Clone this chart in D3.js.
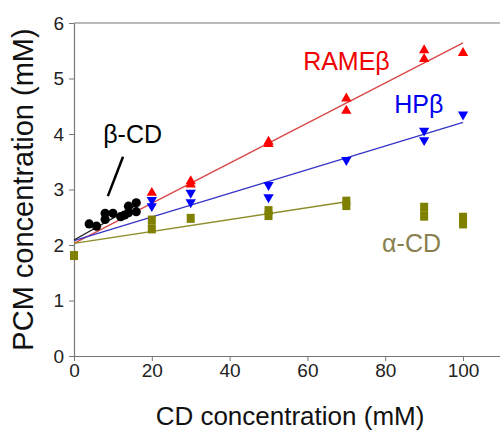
<!DOCTYPE html>
<html>
<head>
<meta charset="utf-8">
<script src="https://cdn.jsdelivr.net/npm/d3@7/dist/d3.min.js"></script>
<style>
  body { margin: 0; background: #fff; }
  svg { display: block; font-family: Arial, "Liberation Sans", sans-serif; }
</style>
</head>
<body>
<div id="chart"></div>
<script>
// Data
const xTicks = [0, 20, 40, 60, 80, 100];
const yTicks = [0, 1, 2, 3, 4, 5, 6];

const rameData = [[20, 2.94], [30, 3.09], [30, 3.15], [50, 3.82], [50, 3.86],
    [70, 4.42], [70, 4.64], [90, 5.35], [90, 5.51], [100, 5.46]];
const hpData = [[20, 2.70], [20, 2.81], [30, 2.77], [30, 2.94], [50, 2.86], [50, 3.08],
    [70, 3.53], [90, 3.89], [90, 4.06], [100, 4.35]];
const alphaData = [[0, 1.81], [20, 2.29], [20, 2.45], [30, 2.48], [50, 2.53], [50, 2.62],
    [70, 2.71], [70, 2.79], [90, 2.52], [90, 2.68], [100, 2.38], [100, 2.50]];
const betaData = [[3.9, 2.38], [5.8, 2.34], [8, 2.46], [8, 2.57], [10, 2.57], [12, 2.51],
    [13, 2.54], [14, 2.58], [14, 2.70], [16, 2.60], [16, 2.76]];

const rameFit = [[0, 2.03], [100, 5.64]];
const hpFit = [[0, 2.08], [100, 4.21]];
const alphaFit = [[0, 2.03], [70, 2.78]];
const betaFit = [[0, 2.09], [16, 2.72]];

const labels = [
    { text: 'RAMEβ', x: 58.9, y: 5.15, color: '#f00000' },
    { text: 'HPβ', x: 82.3, y: 4.38, color: '#0000f0' },
    { text: 'α-CD', x: 79.2, y: 1.87, color: '#8a7f4e' },
    { text: 'β-CD', x: 7.5, y: 3.84, color: '#000000' }
];
const pointer = [[12.6, 3.59], [8.7, 2.88]];

const width = 500, height = 430;
const margin = { top: 23, right: 0, bottom: 74, left: 74 };

const svg = d3.select('#chart').append('svg')
    .attr('width', width)
    .attr('height', height);

const x = d3.scaleLinear().domain([0, 109.5]).range([margin.left, width - margin.right]);
const y = d3.scaleLinear().domain([0, 6]).range([height - margin.bottom, margin.top]);

// top frame line
svg.append('line')
    .attr('x1', x(0)).attr('x2', width)
    .attr('y1', y(6)).attr('y2', y(6))
    .attr('stroke', '#777').attr('stroke-width', 1.2);

const xAxis = svg.append('g')
    .attr('transform', `translate(0,${y(0)})`)
    .call(d3.axisBottom(x).tickValues(xTicks).tickFormat(d3.format('d'))
        .tickSize(5).tickPadding(3).tickSizeOuter(0));

const yAxis = svg.append('g')
    .attr('transform', `translate(${x(0)},0)`)
    .call(d3.axisLeft(y).tickValues(yTicks).tickFormat(d3.format('d'))
        .tickSize(5).tickPadding(5).tickSizeOuter(0));

[xAxis, yAxis].forEach(g => {
    g.select('.domain').attr('stroke', '#777').attr('stroke-width', 1.2);
    g.selectAll('.tick line').attr('stroke', '#777');
    g.selectAll('.tick text')
        .attr('font-size', 19)
        .attr('fill', '#222')
        .style('font-family', 'Arial, "Liberation Sans", sans-serif');
});

// axis titles
svg.append('text')
    .attr('x', 290).attr('y', 425)
    .attr('text-anchor', 'middle')
    .attr('font-size', 26)
    .attr('fill', '#111')
    .text('CD concentration (mM)');

svg.append('text')
    .attr('transform', `translate(33,${(y(0) + y(6)) / 2}) rotate(-90)`)
    .attr('text-anchor', 'middle')
    .attr('font-size', 29)
    .attr('fill', '#111')
    .text('PCM concentration (mM)');

// fit lines
const line = d3.line().x(d => x(d[0])).y(d => y(d[1]));
const fits = [
    { data: rameFit, color: '#d94848' },
    { data: hpFit, color: '#3636c8' },
    { data: alphaFit, color: '#8c8c28' },
    { data: betaFit, color: '#222' }
];
svg.append('g').selectAll('path')
    .data(fits)
    .join('path')
    .attr('d', d => line(d.data))
    .attr('fill', 'none')
    .attr('stroke', d => d.color)
    .attr('stroke-width', 1.4);

// markers
const triUp = d3.symbol().type(d3.symbolTriangle).size(46);

svg.append('g').selectAll('rect')
    .data(alphaData)
    .join('rect')
    .attr('x', d => x(d[0]) - 4)
    .attr('y', d => y(d[1]) - 4.5)
    .attr('width', 8)
    .attr('height', 9)
    .attr('fill', '#808000');

svg.append('g').selectAll('path')
    .data(hpData)
    .join('path')
    .attr('d', triUp)
    .attr('transform', d => `translate(${x(d[0])},${y(d[1])}) rotate(180)`)
    .attr('fill', '#0000ff');

svg.append('g').selectAll('path')
    .data(rameData)
    .join('path')
    .attr('d', triUp)
    .attr('transform', d => `translate(${x(d[0])},${y(d[1])})`)
    .attr('fill', '#ff0000');

svg.append('g').selectAll('circle')
    .data(betaData)
    .join('circle')
    .attr('cx', d => x(d[0]))
    .attr('cy', d => y(d[1]))
    .attr('r', 4.6)
    .attr('fill', '#000');

// annotations
svg.append('g').selectAll('text')
    .data(labels)
    .join('text')
    .attr('x', d => x(d.x))
    .attr('y', d => y(d.y))
    .attr('font-size', 25)
    .attr('fill', d => d.color)
    .text(d => d.text);

svg.append('line')
    .attr('x1', x(pointer[0][0])).attr('y1', y(pointer[0][1]))
    .attr('x2', x(pointer[1][0])).attr('y2', y(pointer[1][1]))
    .attr('stroke', '#000').attr('stroke-width', 2.5);
</script>
</body>
</html>
